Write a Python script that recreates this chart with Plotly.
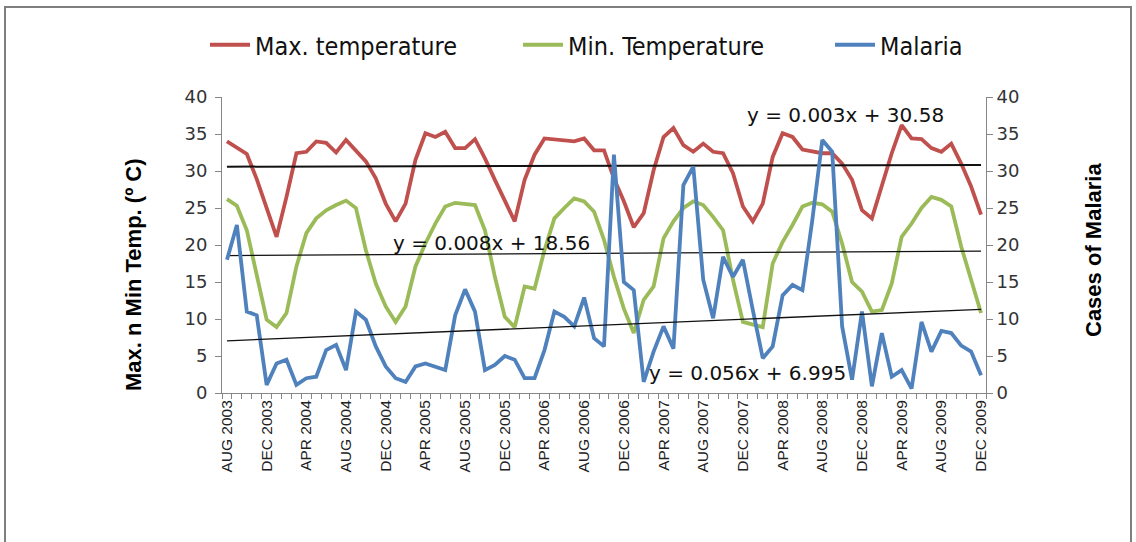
import plotly.graph_objects as go

months = list(range(77))  # AUG 2003 .. DEC 2009, monthly

tick_labels = ["AUG 2003", "DEC 2003", "APR 2004", "AUG 2004", "DEC 2004",
               "APR 2005", "AUG 2005", "DEC 2005", "APR 2006", "AUG 2006",
               "DEC 2006", "APR 2007", "AUG 2007", "DEC 2007", "APR 2008",
               "AUG 2008", "DEC 2008", "APR 2009", "AUG 2009", "DEC 2009"]
tick_positions = list(range(0, 77, 4))

max_temp = [34.0, 33.1, 32.3, 28.9, 25.1, 21.1, 26.5, 32.4, 32.6, 34.0,
            33.8, 32.5, 34.2, 32.8, 31.3, 29.0, 25.6, 23.2, 25.6, 31.5,
            35.1, 34.6, 35.3, 33.1, 33.1, 34.3, 31.7, 28.8, 25.9, 23.2,
            28.8, 32.2, 34.4, 34.3, 34.1, 34.0, 34.4, 32.8, 32.8, 29.0,
            25.9, 22.4, 24.3, 30.1, 34.6, 35.8, 33.5, 32.6, 33.7, 32.6,
            32.4, 29.7, 25.2, 23.2, 25.6, 31.9, 35.1, 34.6, 32.9, 32.7,
            32.4, 32.4, 31.0, 28.8, 24.7, 23.6, 28.1, 32.4, 36.2, 34.4,
            34.3, 33.1, 32.6, 33.7, 31.0, 27.9, 24.1]

min_temp = [26.2, 25.3, 22.0, 15.7, 9.9, 8.9, 10.8, 17.1, 21.6, 23.6,
            24.7, 25.4, 26.0, 25.0, 19.3, 14.8, 11.7, 9.6, 11.7, 17.1,
            20.2, 22.9, 25.2, 25.7, 25.6, 25.4, 22.0, 15.7, 10.3, 8.9,
            14.4, 14.1, 19.3, 23.6, 25.0, 26.3, 25.9, 24.5, 20.7, 15.7,
            11.4, 8.1, 12.6, 14.4, 20.9, 23.2, 25.0, 25.9, 25.4, 23.8,
            22.0, 15.3, 9.6, 9.2, 8.9, 17.5, 20.4, 22.7, 25.2, 25.7,
            25.5, 24.5, 20.2, 15.0, 13.7, 11.0, 11.2, 14.8, 21.1, 22.9,
            25.0, 26.5, 26.1, 25.2, 19.8, 15.3, 10.8]

malaria = [18.0, 22.7, 11.0, 10.5, 1.1, 4.0, 4.5, 1.1, 2.0, 2.2,
           5.8, 6.5, 3.1, 11.0, 9.9, 6.3, 3.6, 2.0, 1.5, 3.6,
           4.0, 3.6, 3.1, 10.5, 14.0, 11.0, 3.1, 3.8, 5.0, 4.5,
           2.0, 2.0, 5.8, 11.0, 10.3, 9.0, 12.9, 7.4, 6.3, 32.2,
           15.0, 13.9, 1.5, 5.6, 9.0, 6.0, 28.1, 30.6, 15.3, 10.1,
           18.4, 15.7, 18.0, 11.2, 4.7, 6.3, 13.2, 14.6, 13.9, 23.4,
           34.2, 32.6, 9.0, 1.8, 11.0, 0.9, 8.1, 2.2, 3.1, 0.6,
           9.6, 5.6, 8.4, 8.1, 6.4, 5.6, 2.4]

# Linear trendline coefficients (Excel, x = 1..77)
trend_max = (0.003, 30.58)
trend_min = (0.008, 18.56)
trend_mal = (0.056, 6.995)

def trend(coef):
    return [coef[0] * (m + 1) + coef[1] for m in months]

RED = "#C0504D"
GREEN = "#9BBB59"
BLUE = "#4F81BD"
AXIS = "#868686"

fig = go.Figure()
fig.add_trace(go.Scatter(x=months, y=max_temp, mode="lines", name="Max. temperature",
                         legend="legend", line=dict(color=RED, width=3.8)))
fig.add_trace(go.Scatter(x=months, y=min_temp, mode="lines", name="Min. Temperature",
                         legend="legend2", line=dict(color=GREEN, width=3.8)))
fig.add_trace(go.Scatter(x=months, y=malaria, mode="lines", name="Malaria", yaxis="y2",
                         legend="legend3", line=dict(color=BLUE, width=3.8)))
fig.add_trace(go.Scatter(x=months, y=trend(trend_max), mode="lines", showlegend=False,
                         line=dict(color="#111111", width=2), hoverinfo="skip"))
fig.add_trace(go.Scatter(x=months, y=trend(trend_min), mode="lines", showlegend=False,
                         line=dict(color="#111111", width=1.3), hoverinfo="skip"))
fig.add_trace(go.Scatter(x=months, y=trend(trend_mal), mode="lines", showlegend=False,
                         yaxis="y2", line=dict(color="#111111", width=1.3), hoverinfo="skip"))

eq_font = dict(family="DejaVu Sans, Liberation Sans, sans-serif", size=20, color="#111111")
fig.add_annotation(x=62.3, y=37.6, text="y = 0.003x + 30.58", showarrow=False, font=eq_font)
fig.add_annotation(x=26.7, y=20.3, text="y = 0.008x + 18.56", showarrow=False, font=eq_font)
fig.add_annotation(x=52.5, y=2.7, text="y = 0.056x + 6.995", showarrow=False, font=eq_font)

title_font = dict(family="Liberation Sans, Arial, sans-serif", size=22, color="#000000")
fig.add_annotation(xref="paper", yref="paper", x=(133 - 222) / 764, y=(393 - 275) / 296,
                   textangle=-90, xanchor="center", yanchor="middle",
                   text="<b>Max. n Min Temp. (º C)</b>", showarrow=False, font=title_font)
fig.add_annotation(xref="paper", yref="paper", x=(1093 - 222) / 764, y=(393 - 250) / 296,
                   textangle=-90, xanchor="center", yanchor="middle",
                   text="<b>Cases of Malaria</b>", showarrow=False, font=title_font)

# outer chart border
fig.add_shape(type="rect", xref="paper", yref="paper",
              x0=(5 - 222) / 764, x1=(1131 - 222) / 764,
              y0=(393 - 548) / 296, y1=(393 - 7) / 296,
              line=dict(color="#7f7f7f", width=2), layer="below")

tick_font = dict(family="DejaVu Sans, Liberation Sans, sans-serif", size=18, color="#333333")

legend_font = dict(family="DejaVu Sans Condensed, Liberation Sans Narrow, Liberation Sans, sans-serif",
                   size=25, color="#111111")

def legend_at(px):
    return dict(orientation="h", x=(px - 222) / 764, y=(393 - 45) / 296,
                xanchor="left", yanchor="middle", font=legend_font,
                itemwidth=40, bgcolor="rgba(0,0,0,0)")

fig.update_layout(
    width=1136, height=542,
    margin=dict(l=222, r=150, t=97, b=149),
    plot_bgcolor="white", paper_bgcolor="white",
    showlegend=True,
    legend=legend_at(205),
    legend2=legend_at(518),
    legend3=legend_at(830),
    xaxis=dict(range=[-0.5, 76.5], tickmode="array", tickvals=tick_positions,
               ticktext=tick_labels, tickangle=-90, ticks="",
               tickfont=dict(family="Liberation Sans, Arial, sans-serif", size=15.5, color="#222222"),
               showgrid=False, zeroline=False, showline=True, linecolor=AXIS, linewidth=1,
               minor=dict(tickmode="array", tickvals=[m - 0.5 for m in months] + [76.5],
                          ticks="outside", ticklen=5, tickcolor=AXIS, tickwidth=1, showgrid=False)),
    yaxis=dict(range=[0, 40], tickmode="linear", tick0=0, dtick=5, ticks="outside",
               ticklen=6, tickcolor=AXIS, showgrid=False, zeroline=False, showline=True,
               linecolor=AXIS, linewidth=1, tickfont=tick_font, ticklabelstandoff=4),
    yaxis2=dict(range=[0, 40], tickmode="linear", tick0=0, dtick=5, ticks="outside",
                ticklen=6, tickcolor=AXIS, overlaying="y", side="right", showgrid=False,
                zeroline=False, showline=True, linecolor=AXIS, linewidth=1, tickfont=tick_font),
)

fig.write_html("out.html", config={"displayModeBar": False},
               post_script="document.body.style.margin='0';")
